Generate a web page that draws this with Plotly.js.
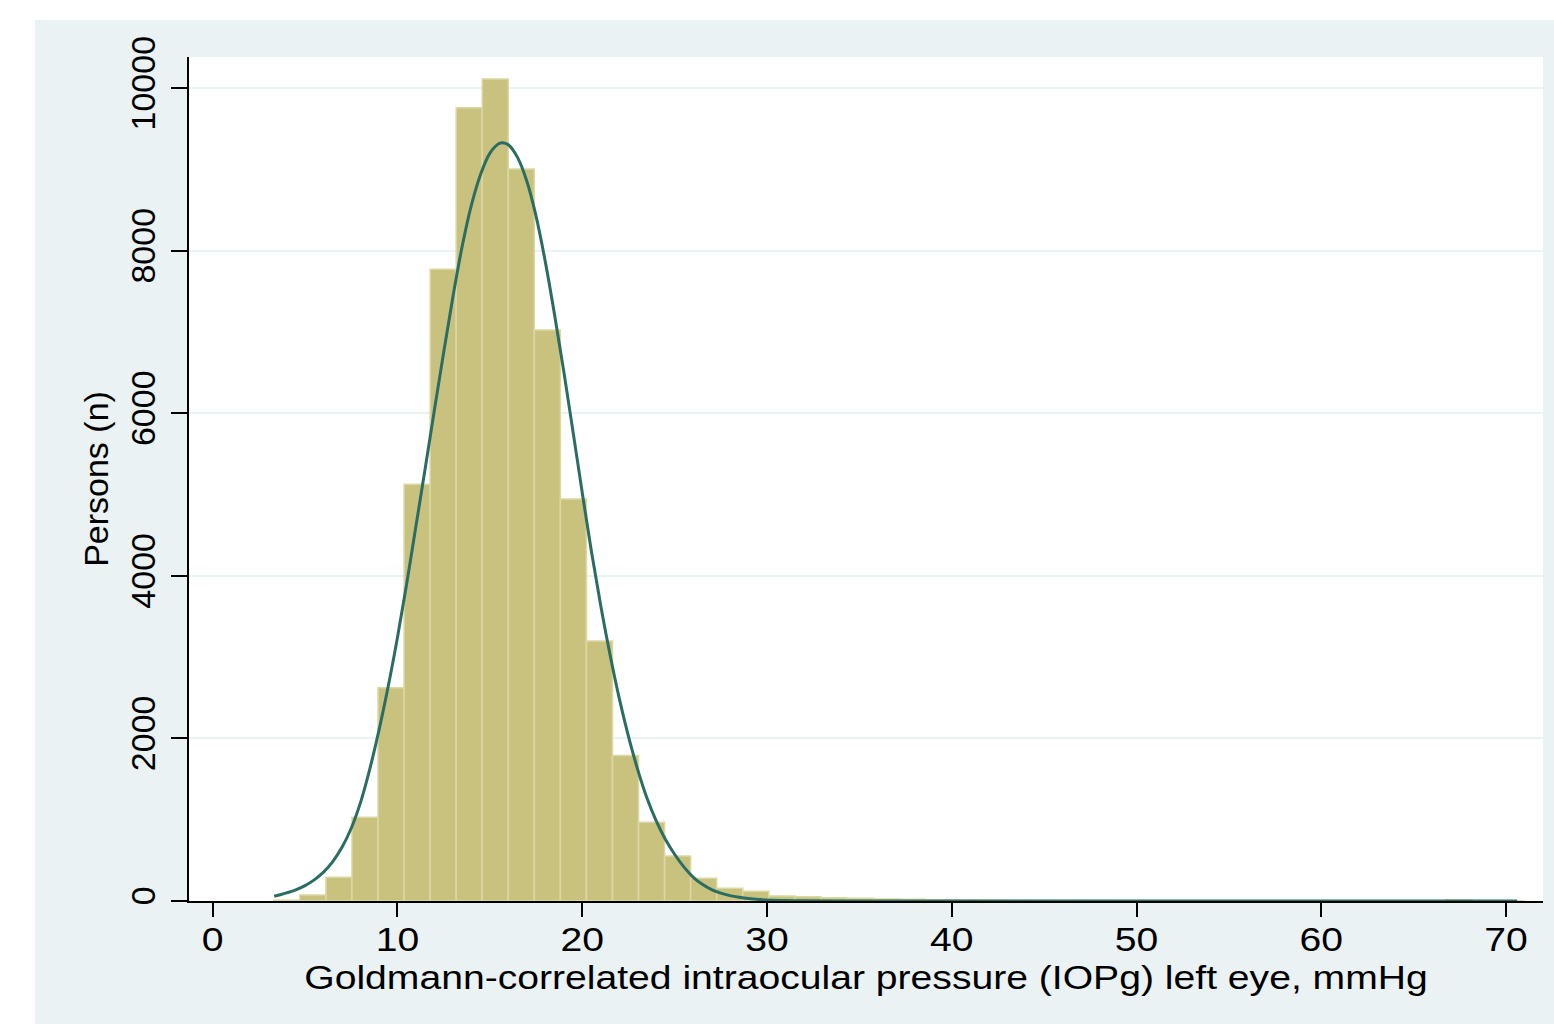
<!DOCTYPE html>
<html>
<head>
<meta charset="utf-8">
<script src="https://cdn.plot.ly/plotly-3.0.1.min.js"></script>
<style>
  html, body { margin: 0; padding: 0; background: #ffffff; width: 1554px; height: 1024px; overflow: hidden; }
  #chart { position: absolute; left: 35px; top: 20px; width: 1519px; height: 1004px; }
</style>
</head>
<body>
<div id="chart"></div>
<script>
// Histogram bins (IOPg left eye, mmHg)
const binStart = 3.31;
const binWidth = 1.41;
const counts = [10, 74, 291, 1030, 2625, 5127, 7773, 9762, 10115, 9007,
                7026, 4947, 3199, 1790, 968, 554, 279, 156, 120, 61,
                53, 41, 33, 25, 20, 16, 12, 9, 7, 6,
                5, 4, 3, 3, 2, 2, 2, 1, 1, 1,
                1, 1, 1, 1, 0, 14, 0, 2];

// Normal density overlay
const curveX = [3.33, 3.7, 4.0, 4.5, 5.0, 5.5, 6.0, 6.5, 7.0, 7.5,
                8.0, 8.5, 9.0, 9.5, 10.0, 10.5, 11.0, 11.5, 12.0, 12.5,
                13.0, 13.5, 14.0, 14.5, 15.0, 15.5, 15.7, 16.0, 16.5, 17.0,
                17.5, 18.0, 18.5, 19.0, 19.5, 20.0, 20.5, 21.0, 21.5, 22.0,
                22.5, 23.0, 23.5, 24.0, 24.5, 25.0, 25.5, 26.0, 26.5, 27.0,
                27.5, 28.0, 28.5, 29.0, 30.0, 31.0, 32.0, 34.0, 40.0, 50.0,
                60.0, 70.6];
const curveY = [58, 80, 100, 138, 190, 260, 355, 485, 660, 895,
                1210, 1620, 2100, 2640, 3240, 3900, 4610, 5320, 6040, 6745,
                7430, 8050, 8560, 8940, 9200, 9320, 9331, 9305, 9150, 8860,
                8430, 7870, 7220, 6520, 5780, 5030, 4300, 3640, 3040, 2500,
                2030, 1620, 1270, 990, 760, 575, 420, 295, 205, 140,
                97, 66, 45, 30, 13, 5, 2, 0, 0, 0,
                0, 0];

const xTicks = [0, 10, 20, 30, 40, 50, 60, 70];
const yTicks = [0, 2000, 4000, 6000, 8000, 10000];

const xTitle = "Goldmann-correlated intraocular pressure (IOPg) left eye, mmHg";
const yTitle = "Persons (n)";

const binCenters = counts.map((c, i) => binStart + (i + 0.5) * binWidth);

const FONT = "Liberation Sans, Arial, Helvetica, sans-serif";

const traces = [
  {
    type: "bar",
    x: binCenters,
    y: counts,
    width: binWidth,
    marker: { color: "#c9c27f", line: { color: "#dcd8a4", width: 1.5 } },
    hoverinfo: "skip",
    showlegend: false
  },
  {
    type: "scatter",
    mode: "lines",
    x: curveX,
    y: curveY,
    line: { color: "#2a6d62", width: 3, shape: "spline", smoothing: 1 },
    hoverinfo: "skip",
    showlegend: false
  }
];

const layout = {
  width: 1519,
  height: 1004,
  paper_bgcolor: "#eaf2f3",
  plot_bgcolor: "#ffffff",
  margin: { l: 154, r: 11, t: 37, b: 123, pad: 0 },
  bargap: 0,
  font: { family: FONT, size: 34, color: "#000000" },
  xaxis: {
    range: [-1.28, 72.0],
    tickmode: "array",
    tickvals: xTicks,
    ticktext: xTicks.map(String),
    ticks: "outside",
    ticklen: 14,
    tickwidth: 2,
    tickcolor: "#000000",
    showline: true,
    linecolor: "#000000",
    linewidth: 2,
    showgrid: false,
    zeroline: false,
    tickfont: { family: FONT, size: 34, color: "#000000" },
    ticklabelstandoff: -7,
    title: { text: xTitle, font: { family: FONT, size: 34, color: "#000000" }, standoff: 0 },
    fixedrange: true
  },
  yaxis: {
    range: [0, 10385],
    tickmode: "array",
    tickvals: yTicks,
    ticktext: yTicks.map(String),
    tickangle: -90,
    ticks: "outside",
    ticklen: 16,
    tickwidth: 2,
    tickcolor: "#000000",
    showline: true,
    linecolor: "#000000",
    linewidth: 2,
    showgrid: true,
    gridcolor: "#eaf2f3",
    gridwidth: 2,
    zeroline: false,
    tickfont: { family: FONT, size: 34, color: "#000000" },
    ticklabelstandoff: 2,
    title: { text: yTitle, font: { family: FONT, size: 34, color: "#000000" }, standoff: 6 },
    fixedrange: true
  }
};

Plotly.newPlot("chart", traces, layout, { displayModeBar: false, staticPlot: true }).then(function (gd) {
  // the reference's horizontal text is drawn slightly wider; widen it to match
  const stretch = 1.15;
  gd.querySelectorAll(".xtick text, .g-xtitle text").forEach(function (el) {
    const L = el.getComputedTextLength();
    if (L > 0) {
      el.setAttribute("textLength", (L * stretch).toFixed(1));
      el.setAttribute("lengthAdjust", "spacingAndGlyphs");
    }
  });
});
</script>
</body>
</html>
